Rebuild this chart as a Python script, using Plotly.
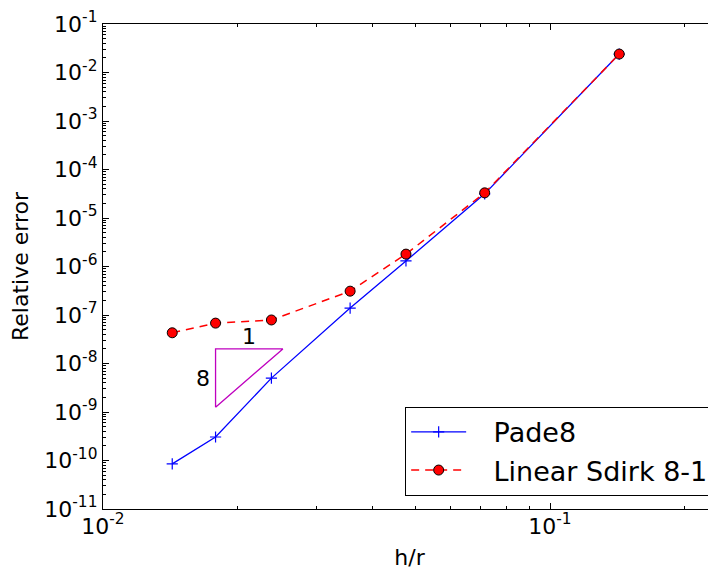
import numpy as np
import plotly.graph_objects as go

# ---- data ----
h_over_r = [1/70, 1/56, 1/42, 1/28, 1/21, 1/14, 1/7]
pade8 = [8.5e-11, 3.05e-10, 5.0e-9, 1.39e-7, 1.30e-6, 3.15e-5, 2.4e-2]
sdirk81 = [4.3e-8, 6.8e-8, 7.9e-8, 3.1e-7, 1.8e-6, 3.3e-5, 2.4e-2]
series_names = ["Pade8", "Linear Sdirk 8-1"]

# slope triangle (order 8)
tri_x0 = 1/56
tri_dx = np.sqrt(2.0)
tri_ytop = 2e-8
tri_order = 8

x_tickvals = [1e-2, 1e-1]
x_ticktext = ["10<sup>-2</sup>", "10<sup>-1</sup>"]
y_exps = list(range(-11, 0))
y_tickvals = [10.0**e for e in y_exps]
y_ticktext = ["10<sup>%d</sup>" % e for e in y_exps]

x_minor = [k * 10.0**e for e in (-2,) for k in range(2, 10)] + [0.2]
y_minor = [k * 10.0**e for e in range(-11, -1) for k in range(2, 10)]

FONT = "DejaVu Sans"
PAD = "\u2002\u2004"  # spacing between legend sample and label

fig = go.Figure()
fig.add_trace(go.Scatter(
    x=h_over_r, y=pade8, name=PAD + series_names[0], mode="lines+markers",
    line=dict(color="#0000ff", width=1.3),
    marker=dict(symbol="cross-thin", size=8, line=dict(color="#0000ff", width=1.2)),
))
fig.add_trace(go.Scatter(
    x=h_over_r, y=sdirk81, name=PAD + series_names[1], mode="lines+markers",
    line=dict(color="#ff0000", width=1.5, dash="8px,6px"),
    marker=dict(symbol="circle", size=10, color="#ff0000", line=dict(color="black", width=1)),
))

tri_x1 = tri_x0 * tri_dx
tri_ybot = tri_ytop / tri_dx**tri_order
fig.add_trace(go.Scatter(
    x=[tri_x0, tri_x0, tri_x1, tri_x0], y=[tri_ybot, tri_ytop, tri_ytop, tri_ybot],
    mode="lines", line=dict(color="#bf00bf", width=1.3), showlegend=False, hoverinfo="skip",
))
fig.add_annotation(x=np.log10(np.sqrt(tri_x0 * tri_x1)), y=np.log10(tri_ytop), text="1",
                   showarrow=False, xanchor="center", yanchor="bottom", yshift=-2,
                   font=dict(family=FONT, size=22, color="black"))
fig.add_annotation(x=np.log10(tri_x0), y=np.log10(np.sqrt(tri_ytop * tri_ybot)), text=str(tri_order),
                   showarrow=False, xanchor="right", yanchor="middle", xshift=-4,
                   font=dict(family=FONT, size=22, color="black"))

axis_common = dict(
    type="log", showgrid=False, zeroline=False,
    showline=True, linecolor="black", linewidth=1.3,
    ticks="inside", ticklen=6, tickwidth=1, tickcolor="black",
    tickfont=dict(family=FONT, size=22, color="black"),
    tickmode="array",
)

fig.update_xaxes(
    **axis_common, mirror="ticks",
    range=[-2, -2 + 613/447],
    tickvals=x_tickvals, ticktext=x_ticktext,
    ticklabelstandoff=-3,
    minor=dict(tickmode="array", tickvals=x_minor, ticks="inside", ticklen=3, tickcolor="black", tickwidth=1),
    title=dict(text="h/r", font=dict(family=FONT, size=22, color="black"), standoff=12),
)
fig.update_yaxes(
    **axis_common, mirror=False,
    range=[-11, -1],
    tickvals=y_tickvals, ticktext=y_ticktext,
    minor=dict(tickmode="array", tickvals=y_minor, ticks="inside", ticklen=3, tickcolor="black", tickwidth=1),
    title=dict(text="Relative error", font=dict(family=FONT, size=22, color="black"), standoff=12),
)

# page body has an 8px margin, so the figure is drawn 8px smaller with reduced margins
fig.update_layout(
    width=708, height=564,
    margin=dict(l=95, r=0, t=16, b=63, autoexpand=False),
    paper_bgcolor="white", plot_bgcolor="white",
    font=dict(family=FONT, color="black"),
    legend=dict(
        x=0.997, y=0.027, xanchor="right", yanchor="bottom",
        bgcolor="white", bordercolor="black", borderwidth=1,
        font=dict(family=FONT, size=27, color="black"),
        itemwidth=55, tracegroupgap=4,
    ),
)

fig.write_html("out.html")
